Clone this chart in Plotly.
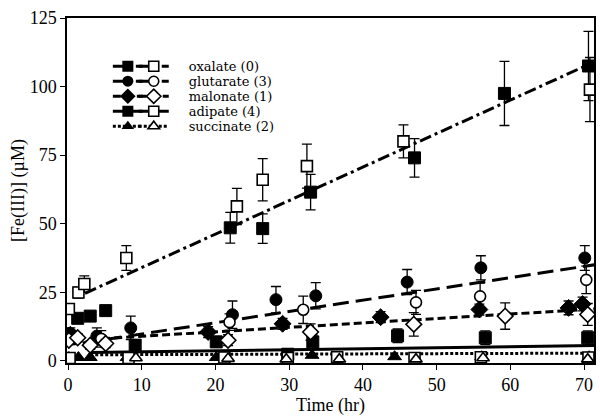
import plotly.graph_objects as go

# ---------------- data ----------------
# oxalate (0)
oxa_fill_t = [1.3, 3.0, 5.1, 22.0, 26.4, 32.9, 47.0, 59.2, 70.6]
oxa_fill_v = [15.5, 16.3, 18.3, 48.5, 48.2, 61.5, 74.0, 97.5, 107.5]
oxa_fill_e = [1.5, 1.5, 1.5, 5.6, 5.4, 6.5, 7.0, 11.7, 12.6]
oxa_open_t = [0.1, 1.4, 2.2, 7.9, 22.9, 26.4, 32.4, 45.5, 70.8]
oxa_open_v = [18.9, 24.9, 28.0, 37.5, 56.3, 66.0, 71.0, 80.0, 98.9]
oxa_open_e = [1.5, 2.0, 3.0, 4.5, 6.6, 7.7, 8.0, 6.0, 11.7]
oxa_fit_t = [2.3, 71.4]
oxa_fit_v = [24.6, 109.0]

# glutarate (3)
glu_fill_t = [0.3, 3.9, 8.5, 22.3, 28.2, 33.6, 46.0, 56.0, 70.1]
glu_fill_v = [10.0, 9.0, 12.0, 16.8, 22.3, 23.7, 28.7, 33.9, 37.5]
glu_fill_e = [2.0, 3.0, 4.3, 5.0, 4.8, 4.8, 4.6, 4.4, 4.5]
glu_open_t = [4.5, 21.9, 31.9, 47.2, 55.9, 70.3]
glu_open_v = [8.0, 14.1, 18.6, 21.3, 23.5, 29.5]
glu_open_e = [3.0, 3.0, 5.0, 4.4, 4.8, 5.0]
glu_fit_t = [2.0, 71.4]
glu_fit_v = [6.5, 35.0]

# malonate (1)
mal_fill_t = [0.3, 19.0, 29.1, 42.4, 55.8, 67.9, 69.8]
mal_fill_v = [9.5, 10.5, 13.5, 15.9, 18.7, 19.3, 20.7]
mal_fill_e = [1.5, 2.0, 2.0, 2.0, 2.0, 2.5, 2.5]
mal_open_t = [0.1, 1.3, 3.0, 5.1, 21.7, 32.9, 46.9, 59.3, 70.5]
mal_open_v = [7.5, 8.4, 5.7, 6.3, 7.5, 10.5, 13.3, 16.3, 16.9]
mal_open_e = [1.5, 1.5, 1.5, 1.5, 2.0, 3.0, 4.3, 4.8, 4.0]
mal_fit_t = [3.0, 71.4]
mal_fit_v = [7.8, 18.9]

# adipate (4)
adi_fill_t = [0.2, 9.1, 20.1, 29.8, 33.2, 44.7, 56.6, 70.5]
adi_fill_v = [8.0, 5.7, 6.9, 2.4, 6.9, 9.1, 8.4, 8.4]
adi_fill_e = [2.0, 2.0, 2.0, 1.5, 2.5, 2.5, 2.5, 2.5]
adi_open_t = [0.2, 8.2, 21.2, 29.8, 36.5, 47.0, 56.0, 70.6]
adi_open_v = [1.0, 1.0, 1.2, 1.0, 1.3, 1.0, 1.3, 1.2]
adi_open_e = [1.0, 1.0, 1.5, 1.5, 2.0, 1.5, 1.5, 1.5]
adi_fit_t = [3.0, 71.4]
adi_fit_v = [3.0, 5.6]

# succinate (2)
suc_fill_t = [0.1, 1.4, 3.0, 8.0, 20.1, 33.1, 44.3, 56.1, 70.7]
suc_fill_v = [1.2, 1.2, 1.2, 1.2, 1.2, 2.0, 1.5, 1.5, 1.5]
suc_open_t = [9.2, 21.7, 29.6, 36.8, 47.2, 56.3, 70.5]
suc_open_v = [1.0, 0.8, 0.6, 0.6, 0.6, 1.0, 0.6]
suc_fit_t = [3.0, 71.4]
suc_fit_v = [2.2, 2.8]

series_names = ["oxalate (0)", "glutarate (3)", "malonate (1)",
                "adipate (4)", "succinate (2)"]

x_ticks = [0, 10, 20, 30, 40, 50, 60, 70]
y_ticks = [0, 25, 50, 75, 100, 125]

# ---------------- styles ----------------
FONT = "Liberation Serif"
LEGEND_FONT = "DejaVu Serif"
dash_oxa = "12px,4px,3px,4px"
dash_glu = "16px,7px"
dash_mal = "8px,4px"
dash_adi = "solid"
dash_suc = "3px,2px"

series = [
    dict(name=series_names[0], sym="square", size=12, dash=dash_oxa,
         ft=oxa_fill_t, fv=oxa_fill_v, fe=oxa_fill_e,
         ot=oxa_open_t, ov=oxa_open_v, oe=oxa_open_e,
         lt=oxa_fit_t, lv=oxa_fit_v),
    dict(name=series_names[1], sym="circle", size=12, dash=dash_glu,
         ft=glu_fill_t, fv=glu_fill_v, fe=glu_fill_e,
         ot=glu_open_t, ov=glu_open_v, oe=glu_open_e,
         lt=glu_fit_t, lv=glu_fit_v),
    dict(name=series_names[2], sym="diamond", size=13, dash=dash_mal,
         ft=mal_fill_t, fv=mal_fill_v, fe=mal_fill_e,
         ot=mal_open_t, ov=mal_open_v, oe=mal_open_e,
         lt=mal_fit_t, lv=mal_fit_v),
    dict(name=series_names[3], sym="square", size=12, dash=dash_adi,
         ft=adi_fill_t, fv=adi_fill_v, fe=adi_fill_e,
         ot=adi_open_t, ov=adi_open_v, oe=adi_open_e,
         lt=adi_fit_t, lv=adi_fit_v),
    dict(name=series_names[4], sym="triangle-up", size=12, dash=dash_suc,
         ft=suc_fill_t, fv=suc_fill_v, fe=None,
         ot=suc_open_t, ov=suc_open_v, oe=None,
         lt=suc_fit_t, lv=suc_fit_v),
]

fig = go.Figure()

# fit lines first (drawn underneath markers)
for s in series:
    fig.add_trace(go.Scatter(x=s["lt"], y=s["lv"], mode="lines",
                             line=dict(color="black", width=3, dash=s["dash"]),
                             showlegend=False, hoverinfo="skip"))

def err(e):
    if e is None:
        return None
    return dict(type="data", array=e, visible=True, color="black",
                thickness=1.3, width=5)

# markers (filled then open)
for s in series:
    fig.add_trace(go.Scatter(x=s["ft"], y=s["fv"], mode="markers",
                             marker=dict(symbol=s["sym"], size=s["size"], color="black",
                                         line=dict(color="black", width=1)),
                             error_y=err(s["fe"]), showlegend=False))
for s in series:
    fig.add_trace(go.Scatter(x=s["ot"], y=s["ov"], mode="markers",
                             marker=dict(symbol=s["sym"], size=s["size"] - 1, color="white",
                                         line=dict(color="black", width=1.6)),
                             error_y=err(s["oe"]), showlegend=False))

# ---------------- legend: small native legends, one per row and column ----------------
# plot area in px: x 67..596, y 18..368
PLOT_L, PLOT_W, PLOT_T, PLOT_H = 67, 529, 18, 350
PLOT_B = PLOT_T + PLOT_H
ROW0, ROW_STEP = 67, 15.2                       # px centre of first row, row spacing
COL_FILLED, COL_OPEN, COL_TEXT = 108, 134, 149  # px left edges of the legend columns
legend_font = dict(family=LEGEND_FONT, size=13, color="black")

legend_layouts = {}
n = 0
def next_key():
    global n
    n += 1
    return "legend" if n == 1 else f"legend{n}"

for i, s in enumerate(series):
    yc = (PLOT_B - (ROW0 + i * ROW_STEP)) / PLOT_H
    k_f, k_o, k_t = next_key(), next_key(), next_key()
    fig.add_trace(go.Scatter(x=[None], y=[None], mode="lines+markers", name=" ",
                             legend=k_f,
                             line=dict(color="black", width=3, dash=s["dash"]),
                             marker=dict(symbol=s["sym"], size=s["size"] - 1, color="black")))
    fig.add_trace(go.Scatter(x=[None], y=[None], mode="lines+markers", name=" ",
                             legend=k_o,
                             line=dict(color="black", width=3, dash=s["dash"]),
                             marker=dict(symbol=s["sym"], size=s["size"] - 2, color="white",
                                         line=dict(color="black", width=1.6))))
    fig.add_trace(go.Scatter(x=[None], y=[None], mode="markers", name=s["name"],
                             legend=k_t,
                             marker=dict(size=1, color="rgba(0,0,0,0)")))
    for key, px in ((k_f, COL_FILLED), (k_o, COL_OPEN), (k_t, COL_TEXT)):
        legend_layouts[key] = dict(x=(px - PLOT_L) / PLOT_W, y=yc,
                                   xanchor="left", yanchor="middle",
                                   bgcolor="rgba(0,0,0,0)", itemwidth=30,
                                   font=legend_font, itemclick=False,
                                   itemdoubleclick=False)

axis_common = dict(showline=True, linecolor="black", linewidth=1.5, mirror=True,
                   ticks="outside", ticklen=5, tickcolor="black", tickwidth=1.2,
                   showgrid=False, zeroline=False,
                   tickfont=dict(family=FONT, size=18, color="black"))

fig.update_layout(
    width=600, height=416,
    margin=dict(l=PLOT_L, r=600 - PLOT_L - PLOT_W, t=PLOT_T, b=416 - PLOT_B),
    paper_bgcolor="white", plot_bgcolor="white",
    font=dict(family=FONT, color="black"),
    xaxis=dict(range=[-0.15, 71.35], tickvals=x_ticks,
               title=dict(text="Time (hr)", font=dict(family=FONT, size=18), standoff=4),
               **axis_common),
    yaxis=dict(range=[-0.8, 125], tickvals=y_ticks,
               title=dict(text="[Fe(III)] (\u00b5M)", font=dict(family=FONT, size=18), standoff=0),
               **axis_common),
    showlegend=True,
    **legend_layouts,
)

fig.write_html("out.html", config={"displayModeBar": False})

# remove the browser's default page margin so the figure sits at the window origin
with open("out.html", "r", encoding="utf-8") as f:
    html = f.read()
html = html.replace("<head>", "<head><style>html,body{margin:0;padding:0;overflow:hidden;}</style>", 1)
with open("out.html", "w", encoding="utf-8") as f:
    f.write(html)
